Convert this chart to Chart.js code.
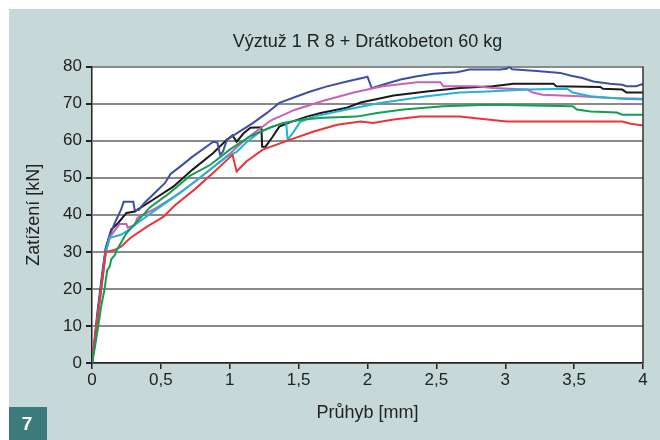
<!DOCTYPE html>
<html>
<head>
<meta charset="utf-8">
<script src="https://cdn.jsdelivr.net/npm/chart.js@4"></script>
<style>
  html, body { margin: 0; padding: 0; background: #fff; }
  #wrap { width: 660px; height: 440px; }
</style>
</head>
<body>
<div id="wrap"><canvas id="chart" width="660" height="440"></canvas></div>
<script>
// tick values
const xTicks = [0, 0.5, 1, 1.5, 2, 2.5, 3, 3.5, 4];
const yTicks = [0, 10, 20, 30, 40, 50, 60, 70, 80];

// series: [deflection mm, load kN]
const seriesGreen = [[0,0],[0.02,4],[0.044,9.7],[0.07,16],[0.09,19.7],[0.11,25],[0.128,26],[0.14,28],[0.167,29.2],[0.18,30.5],[0.25,35],[0.42,42],[0.55,45.5],[0.71,50.5],[0.86,53.5],[1.0,57.6],[1.15,61.2],[1.29,63.5],[1.39,64.8],[1.53,65.7],[1.68,66.2],[1.92,66.5],[2.07,67.5],[2.26,68.4],[2.55,69.3],[2.89,69.7],[3.49,69.3],[3.52,68.4],[3.62,67.9],[3.81,67.6],[3.85,67],[4,67]];
const seriesRed = [[0,0],[0.02,6],[0.04,12],[0.06,18],[0.08,24],[0.1,30],[0.165,30.5],[0.21,31.4],[0.28,33.8],[0.4,36.8],[0.52,39.5],[0.6,42.5],[0.75,47],[0.9,52],[1.0,55.5],[1.02,56.2],[1.05,51.7],[1.12,54.4],[1.24,57.6],[1.44,60.3],[1.61,62.5],[1.78,64.3],[1.95,65.2],[2.04,64.8],[2.19,65.7],[2.38,66.5],[2.67,66.5],[2.82,65.9],[3.01,65.2],[3.85,65.2],[3.91,64.6],[4,64.1]];
const seriesCyan = [[0,0],[0.02,5],[0.04,12],[0.06,18],[0.08,24],[0.1,30],[0.13,33.8],[0.21,34.6],[0.25,35.5],[0.33,37.8],[0.45,41],[0.64,45.9],[0.83,51.4],[0.98,55.7],[1.05,57],[1.12,59.5],[1.22,62.4],[1.31,63.8],[1.39,64.8],[1.41,64.8],[1.42,60.3],[1.46,62.2],[1.51,65],[1.61,66.5],[1.85,68.4],[2.09,70.2],[2.43,72],[2.67,73],[2.87,73.3],[3.16,73.8],[3.45,74],[3.49,73],[3.62,72],[3.85,71.3],[4,71.1]];
const seriesMagenta = [[0,0],[0.02,6],[0.04,12],[0.06,18],[0.08,24],[0.1,30],[0.13,34],[0.2,37.5],[0.25,37.5],[0.26,36.5],[0.31,37.3],[0.33,39.2],[0.45,41.5],[0.6,45],[0.75,49],[0.9,53.5],[1.0,56.5],[1.12,60.5],[1.3,65.5],[1.47,68.3],[1.68,70.8],[1.9,73],[2.11,74.7],[2.36,75.8],[2.53,75.8],[2.55,74.7],[2.79,74.7],[2.91,74.2],[3.16,73.8],[3.2,73],[3.27,72.4],[3.54,72],[3.76,71.5],[4,71.3]];
const seriesBlue = [[0,0],[0.02,7],[0.04,14],[0.06,20],[0.08,26],[0.1,31],[0.12,33.5],[0.165,37.8],[0.21,41.3],[0.23,43.5],[0.3,43.5],[0.31,41.3],[0.34,41.3],[0.38,43.2],[0.455,45.9],[0.53,48.6],[0.57,51],[0.64,53],[0.73,55.7],[0.88,59.7],[0.91,59.5],[0.93,56.2],[0.95,57],[0.98,60.3],[1.05,62],[1.17,64.8],[1.27,67.5],[1.36,70.2],[1.49,72],[1.58,73.2],[1.7,74.6],[1.85,76],[1.97,77],[2.0,77.3],[2.03,74.2],[2.11,75.1],[2.24,76.5],[2.36,77.4],[2.48,78.1],[2.65,78.5],[2.74,79.2],[2.96,79.2],[3.01,79.4],[3.03,79.9],[3.05,79.3],[3.23,78.8],[3.4,78.3],[3.47,77.6],[3.56,76.9],[3.64,76],[3.76,75.4],[3.85,75.1],[3.88,74.7],[3.95,74.7],[4,75.3]];
const seriesBlack = [[0,0],[0.02,6],[0.04,13],[0.06,19],[0.08,25],[0.1,31],[0.14,36],[0.19,37.8],[0.25,40.5],[0.31,40.9],[0.44,44],[0.59,47.6],[0.73,52.2],[0.88,56.7],[0.98,60.3],[1.02,61.4],[1.05,59.7],[1.1,62],[1.15,63.5],[1.23,63.6],[1.235,58.4],[1.26,58.4],[1.31,61],[1.36,63.8],[1.44,65],[1.56,66.5],[1.66,67.5],[1.85,68.9],[1.95,70.3],[2.19,72.2],[2.43,73.3],[2.67,74.2],[2.91,74.7],[3.06,75.4],[3.35,75.4],[3.37,74.7],[3.69,74.5],[3.71,74],[3.85,73.8],[3.88,73],[4,73]];

const toPoints = arr => arr.map(p => ({ x: p[0], y: p[1] }));

function line(data, color) {
  return {
    data: toPoints(data),
    borderColor: color,
    backgroundColor: color,
    borderWidth: 2,
    pointRadius: 0,
    tension: 0,
    fill: false
  };
}

// page background, plot area, right border and the figure number box
const paperPlugin = {
  id: 'paper',
  beforeDraw(chart) {
    const { ctx, chartArea: a } = chart;
    ctx.save();
    ctx.fillStyle = '#ffffff';
    ctx.fillRect(0, 0, 660, 440);
    ctx.fillStyle = '#c6d9d8';
    ctx.fillRect(9, 9, 651, 431);
    ctx.fillStyle = '#ffffff';
    ctx.fillRect(a.left, a.top, a.right - a.left, a.bottom - a.top);
    ctx.restore();
  },
  afterDraw(chart) {
    const { ctx, chartArea: a } = chart;
    ctx.save();
    ctx.strokeStyle = '#333333';
    ctx.lineWidth = 1.5;
    ctx.beginPath();
    ctx.moveTo(a.right, a.top);
    ctx.lineTo(a.right, a.bottom);
    ctx.stroke();
    ctx.fillStyle = '#3b7b7a';
    ctx.fillRect(9, 407, 38, 33);
    ctx.fillStyle = '#ffffff';
    ctx.font = 'bold 19px "Liberation Sans", Arial, sans-serif';
    ctx.textAlign = 'center';
    ctx.textBaseline = 'middle';
    ctx.fillText('7', 27, 425);
    ctx.restore();
  }
};

Chart.defaults.font.family = '"Liberation Sans", Arial, Helvetica, sans-serif';
Chart.defaults.color = '#222';

new Chart(document.getElementById('chart').getContext('2d'), {
  type: 'line',
  data: {
    datasets: [
      line(seriesGreen, '#12a050'),
      line(seriesRed, '#ec3434'),
      line(seriesCyan, '#22b2da'),
      line(seriesMagenta, '#c962b3'),
      line(seriesBlue, '#3d4fa8'),
      line(seriesBlack, '#1a1a1a')
    ]
  },
  options: {
    responsive: false,
    animation: false,
    layout: { padding: { left: 0, right: 17, top: 0, bottom: 0 } },
    plugins: {
      legend: { display: false },
      tooltip: { enabled: false },
      title: {
        display: true,
        fullSize: false,
        text: 'Výztuž 1 R 8 + Drátkobeton 60 kg',
        font: { size: 18, weight: 'normal' },
        color: '#222',
        padding: { top: 31, bottom: 14 }
      }
    },
    scales: {
      x: {
        type: 'linear',
        min: 0,
        max: 4,
        afterBuildTicks: s => { s.ticks = xTicks.map(v => ({ value: v })); },
        afterFit: s => { s.height = 77; },
        ticks: {
          font: { size: 17 },
          color: '#222',
          padding: 1,
          maxRotation: 0,
          callback: v => String(v).replace('.', ',')
        },
        grid: { drawOnChartArea: false, drawTicks: true, tickLength: 6, tickColor: '#222', lineWidth: 1.5 },
        border: { color: '#222', width: 1.5 },
        title: {
          display: true,
          text: 'Průhyb [mm]',
          font: { size: 18 },
          color: '#222',
          padding: { top: 4, bottom: 16 }
        }
      },
      y: {
        min: 0,
        max: 80,
        afterBuildTicks: s => { s.ticks = yTicks.map(v => ({ value: v })); },
        afterFit: s => { s.width = 92; },
        ticks: { font: { size: 17 }, color: '#222', padding: 4 },
        grid: { color: '#8a8a8a', lineWidth: 2, drawTicks: true, tickLength: 6, tickColor: '#222' },
        border: { color: '#222', width: 1.5 },
        title: {
          display: true,
          text: 'Zatížení [kN]',
          font: { size: 18 },
          color: '#222',
          padding: { top: 23, bottom: 0 }
        }
      }
    }
  },
  plugins: [paperPlugin]
});
</script>
</body>
</html>
